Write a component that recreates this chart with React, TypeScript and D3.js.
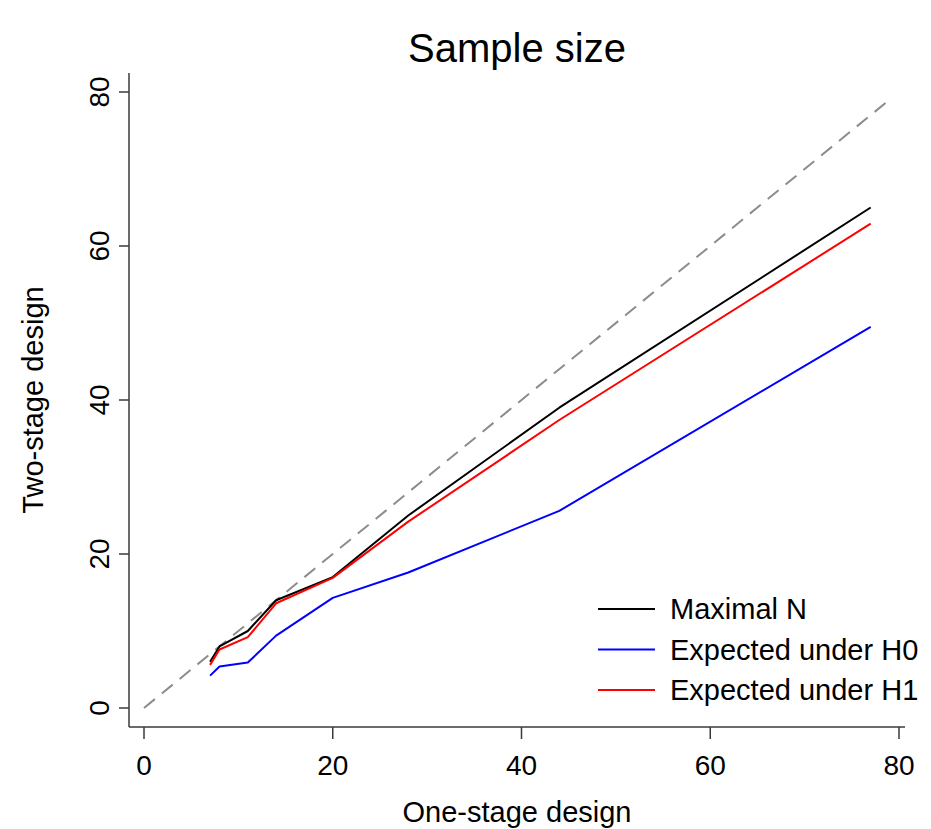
import * as d3 from "d3";
import { useEffect, useRef } from "react";

const oneStage = [7, 8, 11, 14, 20, 28, 44, 77];
const maximalN = [6, 8, 10, 14, 17, 25, 39, 65];
const expectedH0 = [4.2, 5.4, 5.9, 9.4, 14.3, 17.6, 25.6, 49.5];
const expectedH1 = [5.6, 7.6, 9.2, 13.6, 16.9, 24.2, 37.4, 62.9];
const diagonal = [0, 79];
const tickValues = [0, 20, 40, 60, 80];

const seriesNames = ["Maximal N", "Expected under H0", "Expected under H1"];
const seriesColors = ["#000000", "#0000ff", "#ff0000"];

const font = "'Liberation Sans', Arial, sans-serif";

function App() {
	const ref = useRef<SVGSVGElement>(null);

	useEffect(() => {
		const svg = d3.select(ref.current);
		svg.selectAll("*").remove();

		const xScale = d3.scaleLinear().domain([0, 80]).range([144, 899]);
		const yScale = d3.scaleLinear().domain([0, 80]).range([708, 92]);
		const plot = { left: 129, right: 905, top: 73, bottom: 727 };
		const axisColor = "#3a3a3a";

		// title
		svg.append("text")
			.attr("x", 517)
			.attr("y", 62)
			.attr("text-anchor", "middle")
			.style("font-family", font)
			.style("font-size", "40px")
			.text("Sample size");

		// reference line y = x
		svg.append("line")
			.attr("x1", xScale(diagonal[0]))
			.attr("y1", yScale(diagonal[0]))
			.attr("x2", xScale(diagonal[1]))
			.attr("y2", yScale(diagonal[1]))
			.attr("stroke", "#8c8c8c")
			.attr("stroke-width", 2)
			.attr("stroke-dasharray", "14,9");

		const allSeries = [maximalN, expectedH0, expectedH1];
		const line = d3
			.line<[number, number]>()
			.x((d) => xScale(d[0]))
			.y((d) => yScale(d[1]));

		allSeries.forEach((values, i) => {
			const pts: [number, number][] = oneStage.map((x, j) => [x, values[j]]);
			svg.append("path")
				.attr("d", line(pts))
				.attr("fill", "none")
				.attr("stroke", seriesColors[i])
				.attr("stroke-width", 2)
				.attr("stroke-linejoin", "round");
		});

		// axes
		svg.append("line")
			.attr("x1", plot.left)
			.attr("x2", plot.right)
			.attr("y1", plot.bottom)
			.attr("y2", plot.bottom)
			.attr("stroke", axisColor)
			.attr("stroke-width", 1.5);
		svg.append("line")
			.attr("x1", plot.left)
			.attr("x2", plot.left)
			.attr("y1", plot.top)
			.attr("y2", plot.bottom)
			.attr("stroke", axisColor)
			.attr("stroke-width", 1.5);

		const xTicks = svg.append("g");
		tickValues.forEach((t) => {
			xTicks.append("line")
				.attr("x1", xScale(t))
				.attr("x2", xScale(t))
				.attr("y1", plot.bottom)
				.attr("y2", plot.bottom + 12)
				.attr("stroke", axisColor)
				.attr("stroke-width", 1.5);
			xTicks.append("text")
				.attr("x", xScale(t))
				.attr("y", 775)
				.attr("text-anchor", "middle")
				.style("font-family", font)
				.style("font-size", "28px")
				.text(t);
		});

		const yTicks = svg.append("g");
		tickValues.forEach((t) => {
			yTicks.append("line")
				.attr("x1", plot.left - 10)
				.attr("x2", plot.left)
				.attr("y1", yScale(t))
				.attr("y2", yScale(t))
				.attr("stroke", axisColor)
				.attr("stroke-width", 1.5);
			yTicks.append("text")
				.attr("transform", `translate(109,${yScale(t)}) rotate(-90)`)
				.attr("text-anchor", "middle")
				.style("font-family", font)
				.style("font-size", "28px")
				.text(t);
		});

		svg.append("text")
			.attr("x", 517)
			.attr("y", 822)
			.attr("text-anchor", "middle")
			.style("font-family", font)
			.style("font-size", "29px")
			.text("One-stage design");

		svg.append("text")
			.attr("transform", `translate(43,${(plot.top + plot.bottom) / 2}) rotate(-90)`)
			.attr("text-anchor", "middle")
			.style("font-family", font)
			.style("font-size", "29px")
			.text("Two-stage design");

		// legend
		const legend = svg.append("g");
		seriesNames.forEach((name, i) => {
			const y = 609 + i * 40.5;
			legend.append("line")
				.attr("x1", 598)
				.attr("x2", 655)
				.attr("y1", y)
				.attr("y2", y)
				.attr("stroke", seriesColors[i])
				.attr("stroke-width", 2);
			legend.append("text")
				.attr("x", 670)
				.attr("y", y + 10)
				.style("font-family", font)
				.style("font-size", "29px")
				.text(name);
		});
	}, []);

	return (
		<svg
			ref={ref}
			width={931}
			height={829}
			style={{ position: "absolute", left: 0, top: 0, background: "#fff" }}
		></svg>
	);
}

export default App;
